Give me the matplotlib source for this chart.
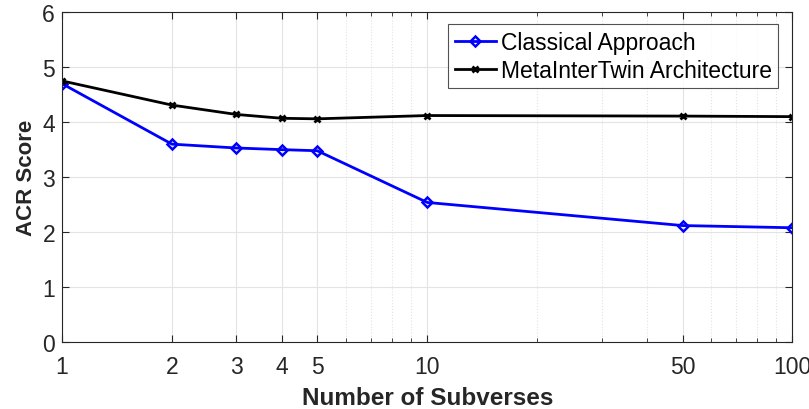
import matplotlib.pyplot as plt
from matplotlib import font_manager
from matplotlib.ticker import FixedLocator, NullFormatter, LogLocator

subverses = [1, 2, 3, 4, 5, 10, 50, 100]
classical = [4.70, 3.60, 3.53, 3.50, 3.48, 2.54, 2.12, 2.08]
metainter = [4.75, 4.31, 4.14, 4.07, 4.06, 4.12, 4.11, 4.10]

plt.rcParams['font.family'] = ['Liberation Sans', 'DejaVu Sans']

names = {f.name for f in font_manager.fontManager.ttflist}
narrow = 'Liberation Sans Narrow' if 'Liberation Sans Narrow' in names else 'Liberation Sans'

fig = plt.figure(figsize=(8.09, 4.10), dpi=100)
ax = fig.add_axes([0.0766, 0.163, 0.903, 0.805])

ax.plot(subverses, classical, color='#0000ff', lw=2, marker='D', ms=5.5,
        mfc='none', mew=1.8, label='Classical Approach')
ax.plot(subverses, metainter, color='black', lw=2, marker='x', ms=4,
        mew=2, label='MetaInterTwin Architecture')

ax.set_xscale('log')
ax.set_xlim(1, 100)
ax.set_ylim(0, 6)
ax.xaxis.set_major_locator(FixedLocator(subverses))
ax.xaxis.set_major_formatter(plt.FixedFormatter([str(s) for s in subverses]))
ax.xaxis.set_minor_locator(LogLocator(base=10, subs=range(2, 10)))
ax.xaxis.set_minor_formatter(NullFormatter())
ax.set_yticks(range(7))

ax.grid(True, which='major', color='#e3e3e3', lw=0.8)
ax.grid(True, which='minor', axis='x', color='#e3e3e3', lw=0.8, ls=':')
ax.set_axisbelow(True)

ax.tick_params(which='both', direction='in', top=True, right=True,
               labelsize=16.5, colors='#262626', length=5)
ax.tick_params(which='minor', length=3)
ax.tick_params(axis='x', pad=9)
ax.tick_params(axis='y', pad=5)
for s in ax.spines.values():
    s.set_color('#262626')
    s.set_linewidth(0.8)

ax.set_xlabel('Number of Subverses', fontsize=17.5, fontweight='bold',
              family=[narrow, 'DejaVu Sans'], color='#262626', labelpad=6)
ax.set_ylabel('ACR Score', fontsize=16, fontweight='bold', color='#262626',
              labelpad=4)

leg = ax.legend(loc='upper right', bbox_to_anchor=(1 - 14 / 730, 1 - 12 / 330),
                fontsize=16.5, frameon=True, fancybox=False, handlelength=1.8,
                handletextpad=0.2, borderpad=0.3, labelspacing=0.2,
                borderaxespad=0)
leg.get_frame().set_edgecolor('#262626')
leg.get_frame().set_linewidth(0.8)

fig.savefig('out.png', dpi=100)
